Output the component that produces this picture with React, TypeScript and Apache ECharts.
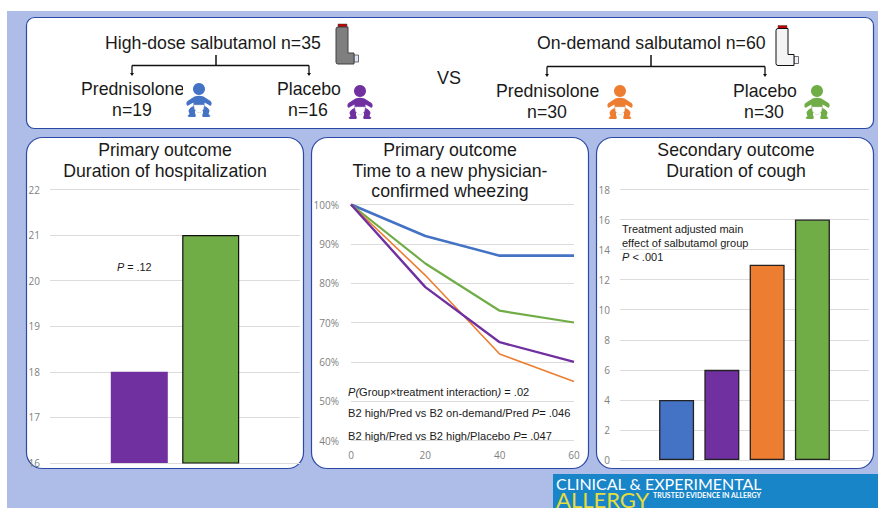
import React, { useEffect, useRef } from "react";
import * as echarts from "echarts";

// ---- data
const hospitalSlots = ["", "", "High-dose placebo", "", "On-demand placebo", "", ""];
const hospitalDays = [null, null, 18, null, 21, null, null];
const coughSlots = ["", "", "High-dose prednisolone", "", "High-dose placebo", "", "On-demand prednisolone", "", "On-demand placebo", "", ""];
const coughDays = [null, null, 4, null, 6, null, 13, null, 16, null, null];
const wheezeDays = [0, 20, 40, 60];
const wheezeHighPred = [100, 92, 87, 87];
const wheezeDemandPlacebo = [100, 85, 73, 70];
const wheezeDemandPred = [100, 82, 62, 55];
const wheezeHighPlacebo = [100, 79, 65, 60];

const BLUE = "#4472c4";
const PURPLE = "#7030a0";
const ORANGE = "#ed7d31";
const GREEN = "#70ad47";
const SANS = '"Liberation Sans", Arial, sans-serif';
const TICK = "#7f7f7f";
const GRIDC = "#dcdcdc";
const HEAD = 17.7;

const BABY =
  "M13 0 A6 6 0 1 1 12.99 0 Z M8.5 13.5 Q13 12 17.5 13.5 L24.5 18 Q26.5 20 25 22.5 Q24 23 23 22 L18.5 19.5 L18.5 23 Q23 25 23.5 28 L22.5 31 L24.5 33 Q24 34 22 34 L17 34 Q15.5 33 17 30 L17 28 L9 28 L9 30 Q10.5 33 9 34 L4 34 Q2 34 1.5 33 L3.5 31 L2.5 28 Q3 25 7.5 23 L7.5 19.5 L3 22 Q2 23 1 22.5 Q-0.5 20 1.5 18 Z";
const DIAPER = "M7.8 22 L18.2 22 L17.5 26 L15 29.5 L11 29.5 L8.5 26 Z";
const INHALER = "M0 2 Q0 0 2 0 L12 0 L12 26 L18 26 L18 37 L2 37 Q0 37 0 35 Z";
echarts.graphic.registerShape("baby", echarts.graphic.extendPath(BABY, {}) as any);
echarts.graphic.registerShape("diaper", echarts.graphic.extendPath(DIAPER, {}) as any);
echarts.graphic.registerShape("inhaler", echarts.graphic.extendPath(INHALER, {}) as any);

function panel(x: number, y: number, w: number, h: number, r: number) {
  return { type: "rect", z: -5, shape: { x, y, width: w, height: h, r }, style: { fill: "#fff", stroke: "#2b4aa5", lineWidth: 1.2 } };
}
function label(text: string, x: number, y: number, size: number, align = "left", extra: any = {}) {
  return {
    type: "text", z: 10, x, y,
    style: { text, fontFamily: SANS, fontSize: size, fill: "#1a1a1a", textAlign: align, textVerticalAlign: "middle", ...extra },
  };
}
function italicLabel(text: string, x: number, y: number, size: number) {
  return label(text, x, y, size, "left", { rich: { i: { fontStyle: "italic", fontFamily: SANS, fontSize: size, fill: "#1a1a1a" }, n: { fontFamily: SANS, fontSize: size, fill: "#1a1a1a" } } });
}
function baby(x: number, y: number, color: string) {
  return {
    type: "group", x, y, z: 10,
    children: [
      { type: "baby", z: 10, style: { fill: color } },
      { type: "diaper", z: 11, style: { fill: "#fff", stroke: "#ccc", lineWidth: 0.5 } },
    ],
  };
}
function inhaler(x: number, y: number, fill: string, stroke: string, mouthFill: string) {
  return {
    type: "group", x, y, z: 10,
    children: [
      { type: "rect", z: 10, shape: { x: 2, y: -3, width: 9, height: 3 }, style: { fill: "#c00000", stroke: "#444", lineWidth: 0.5 } },
      { type: "rect", z: 10, shape: { x: 18, y: 28, width: 4.5, height: 7 }, style: { fill: mouthFill, stroke: "#333", lineWidth: 0.7 } },
      { type: "inhaler", z: 11, style: { fill, stroke, lineWidth: 1 } },
    ],
  };
}
function seg(x1: number, y1: number, x2: number, y2: number, w = 1.3) {
  return { type: "line", z: 10, shape: { x1, y1, x2, y2 }, style: { stroke: "#111", lineWidth: w } };
}
function arrow(x: number, y: number) {
  return { type: "polygon", z: 10, shape: { points: [[x - 2, y - 3], [x + 2, y - 3], [x, y]] }, style: { fill: "#111" } };
}

const valueAxisBase = {
  type: "value" as const,
  axisLine: { show: false },
  axisTick: { show: false },
  axisLabel: { color: TICK, fontSize: 10, fontFamily: '"Open Sans", sans-serif', margin: 10 },
  splitLine: { show: true, lineStyle: { color: GRIDC, width: 1 } },
};

export default function App() {
  const ref = useRef<HTMLDivElement>(null);
  useEffect(() => {
    const chart = echarts.init(ref.current!, undefined, { renderer: "svg" });
    chart.setOption({
      animation: false,
      backgroundColor: "#fff",
      grid: [
        { left: 50, top: 189.5, width: 250, height: 273.5 },
        { left: 351, top: 204.5, width: 223, height: 236 },
        { left: 620, top: 189.5, width: 249, height: 270.5 },
      ],
      xAxis: [
        { gridIndex: 0, type: "category", data: hospitalSlots, show: false },
        {
          gridIndex: 1, type: "value", min: 0, max: 60, interval: 20,
          axisLine: { show: false }, axisTick: { show: false }, splitLine: { show: false },
          axisLabel: { color: TICK, fontSize: 10, fontFamily: '"Open Sans", sans-serif', margin: 9 },
        },
        { gridIndex: 2, type: "category", data: coughSlots, show: false },
      ],
      yAxis: [
        { ...valueAxisBase, gridIndex: 0, min: 16, max: 22, interval: 1 },
        { ...valueAxisBase, gridIndex: 1, min: 40, max: 100, interval: 10, axisLabel: { ...valueAxisBase.axisLabel, formatter: "{value}%", margin: 12 } },
        { ...valueAxisBase, gridIndex: 2, min: 0, max: 18, interval: 2 },
      ],
      series: [
        {
          type: "bar", xAxisIndex: 0, yAxisIndex: 0, barWidth: 57,
          data: hospitalDays.map((v, i) => ({
            value: v,
            itemStyle: i === 2 ? { color: PURPLE } : { color: GREEN, borderColor: "#111", borderWidth: 1.2 },
          })),
        },
        ...[
          { d: wheezeHighPred, c: BLUE, w: 2.6 },
          { d: wheezeDemandPlacebo, c: GREEN, w: 2.2 },
          { d: wheezeDemandPred, c: ORANGE, w: 1.6 },
          { d: wheezeHighPlacebo, c: PURPLE, w: 2.4 },
        ].map((s) => ({
          type: "line", xAxisIndex: 1, yAxisIndex: 1, showSymbol: false,
          data: wheezeDays.map((x, i) => [x, s.d[i]]),
          lineStyle: { color: s.c, width: s.w }, itemStyle: { color: s.c },
        })),
        {
          type: "bar", xAxisIndex: 2, yAxisIndex: 2, barWidth: 35,
          data: coughDays.map((v, i) => ({
            value: v,
            itemStyle: { color: { 2: BLUE, 4: PURPLE, 6: ORANGE, 8: GREEN }[i] || GREEN, borderColor: "#222", borderWidth: 1.3 },
          })),
        },
      ],
      graphic: [
        { type: "rect", z: -10, shape: { x: 7, y: 11, width: 871, height: 497 }, style: { fill: "#aebde8" } },
        panel(26.5, 17.5, 847, 111, 8),
        panel(26.5, 137.5, 277, 331, 16),
        panel(311.5, 137.5, 277, 331, 16),
        panel(596.5, 137.5, 277, 331, 16),

        label("High-dose salbutamol n=35", 105, 43, HEAD),
        label("Prednisolone", 81, 89, HEAD),
        { type: "rect", z: 10, shape: { x: 183, y: 80, width: 3, height: 18 }, style: { fill: "#fff" } },
        label("n=19", 132, 110, HEAD, "center"),
        label("Placebo", 277, 89, HEAD),
        label("n=16", 308, 110, HEAD, "center"),
        label("VS", 449, 78, 18, "center"),
        label("On-demand salbutamol n=60", 537, 43, HEAD),
        label("Prednisolone", 496, 91, HEAD),
        label("n=30", 547, 112, HEAD, "center"),
        label("Placebo", 733, 91, HEAD),
        label("n=30", 764, 112, HEAD, "center"),

        seg(216, 55, 216, 66, 1.5), seg(132, 65.5, 309, 65.5), seg(132, 65.5, 132, 73), seg(309, 65.5, 309, 73),
        arrow(132, 76), arrow(309, 76),
        seg(651, 55, 651, 66.5, 1.5), seg(547, 66.5, 765, 66.5), seg(547, 66.5, 547, 74), seg(765, 66.5, 765, 74),
        arrow(547, 77), arrow(765, 77),

        inhaler(336, 27, "#7f7f7f", "#404040", "#dde6f5"),
        inhaler(776, 28.5, "#f4f4f4", "#111", "#eef2f8"),
        baby(186, 83, BLUE), baby(347, 85, PURPLE), baby(607, 85, ORANGE), baby(804, 85, GREEN),

        label("Primary outcome", 165, 150, HEAD, "center"),
        label("Duration of hospitalization", 165, 171, HEAD, "center"),
        label("Primary outcome", 450, 150, HEAD, "center"),
        label("Time to a new physician-", 450, 171, HEAD, "center"),
        label("confirmed wheezing", 450, 191, HEAD, "center"),
        label("Secondary outcome", 736, 150, HEAD, "center"),
        label("Duration of cough", 736, 171, HEAD, "center"),

        italicLabel("{i|P} {n|= .12}", 117, 267, 10.8),
        italicLabel("{i|P(}{n|Group×treatment interaction}{i|)} {n|= .02}", 348, 392, 11.1),
        italicLabel("{n|B2 high/Pred vs B2 on-demand/Pred }{i|P}{n|= .046}", 348, 413, 11.1),
        italicLabel("{n|B2 high/Pred vs B2 high/Placebo }{i|P}{n|= .047}", 348, 436, 11.1),
        label("Treatment adjusted main", 622, 229, 11),
        label("effect of salbutamol group", 622, 243, 11),
        italicLabel("{i|P} {n|< .001}", 622, 257, 11),

        { type: "rect", z: 5, shape: { x: 553, y: 474, width: 325, height: 34 }, style: { fill: "#1985c9" } },
        label("CLINICAL & EXPERIMENTAL", 556, 483, 16, "left", { fill: "#fff", fontFamily: "Lato, sans-serif" }),
        label("ALLERGY", 556, 499.5, 22, "left", { fill: "#e6dc3c", fontFamily: "Lato, sans-serif" }),
        label("TRUSTED EVIDENCE IN ALLERGY", 653, 495, 7, "left", { fill: "#fff", fontFamily: "Lato, sans-serif", fontWeight: "bold" }),
      ],
    });
    return () => chart.dispose();
  }, []);
  return <div ref={ref} style={{ position: "fixed", left: 0, top: 0, width: 878, height: 508 }} />;
}
